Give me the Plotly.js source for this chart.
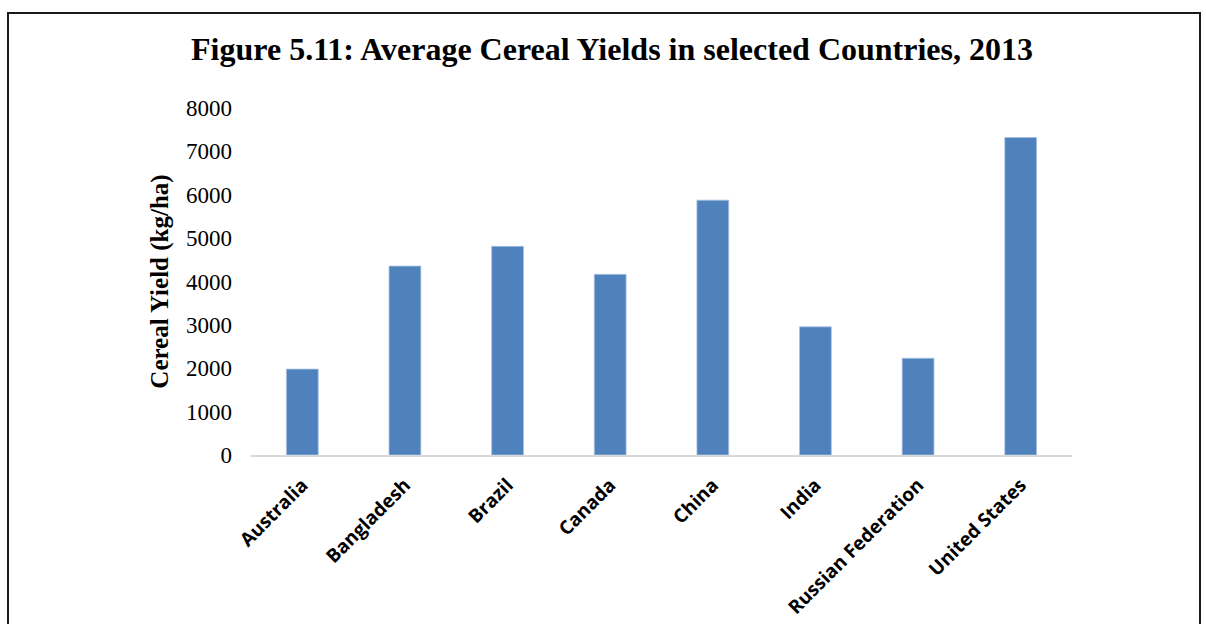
<!DOCTYPE html>
<html>
<head>
<meta charset="utf-8">
<script src="https://cdn.plot.ly/plotly-3.0.1.min.js"></script>
<style>
  html, body { margin: 0; padding: 0; background: #ffffff; }
  #wrap { position: relative; width: 1206px; height: 624px; overflow: hidden; }
  #chart { position: absolute; left: 0; top: 0; width: 1206px; height: 624px; }
  #frame { position: absolute; left: 7px; top: 12px; width: 1190px; height: 640px;
           border: 2px solid #1a1a1a; pointer-events: none; }
</style>
</head>
<body>
<div id="wrap">
  <div id="chart"></div>
  <div id="frame"></div>
</div>
<script>
const countries = ["Australia", "Bangladesh", "Brazil", "Canada", "China", "India", "Russian Federation", "United States"];
const yields = [1980, 4355, 4810, 4165, 5875, 2955, 2230, 7320];
const yTicks = [0, 1000, 2000, 3000, 4000, 5000, 6000, 7000, 8000];

const serif = '"Liberation Serif", "Times New Roman", serif';
const sans = '"Open Sans", "Liberation Sans", sans-serif';

const trace = {
  type: 'bar',
  x: countries,
  y: yields,
  marker: { color: '#4f81bd', line: { color: '#a9c1e2', width: 0.8 } },
  hoverinfo: 'x+y'
};

const layout = {
  width: 1206,
  height: 624,
  paper_bgcolor: '#ffffff',
  plot_bgcolor: '#ffffff',
  margin: { l: 251, r: 134, t: 108, b: 169 },
  bargap: 0.69,
  showlegend: false,
  title: {
    text: '<b>Figure 5.11: Average Cereal Yields in selected Countries, 2013</b>',
    font: { family: serif, size: 32, color: '#000000' },
    x: 0.5075, xref: 'container', xanchor: 'center',
    y: 0.922, yref: 'container', yanchor: 'middle'
  },
  xaxis: {
    type: 'category',
    showline: true, linecolor: '#d9d9d9', linewidth: 1.5,
    showgrid: false, zeroline: false,
    ticks: '', tickangle: -45,
    tickfont: { family: sans, size: 19, color: '#000000', weight: 'bold' },
    ticklabelstandoff: 10
  },
  yaxis: {
    range: [0, 8000],
    tickvals: yTicks,
    ticktext: yTicks.map(String),
    showline: false, showgrid: false, zeroline: false,
    ticks: '',
    tickfont: { family: serif, size: 23, color: '#000000' },
    ticklabelstandoff: 18,
    title: {
      text: '<b>Cereal Yield (kg/ha)</b>',
      font: { family: serif, size: 25, color: '#000000' },
      standoff: 10
    }
  }
};

Plotly.newPlot('chart', [trace], layout, { displayModeBar: false, staticPlot: true });
</script>
</body>
</html>
